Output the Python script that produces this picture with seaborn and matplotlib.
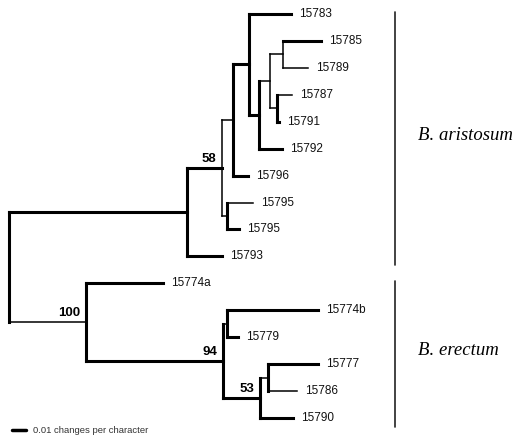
import matplotlib
matplotlib.use("Agg")
import matplotlib.pyplot as plt
import matplotlib.transforms as mtransforms
import seaborn as sns
import pandas as pd

# ---------------- data ----------------
# tree edges: child, parent, branch length (changes per character)
child = ["A", "J",
         "B", "15793",
         "C", "D",
         "15795a", "15795b",
         "E", "15796",
         "15783", "F",
         "G", "15792",
         "H", "I",
         "15785", "15789",
         "15787", "15791",
         "15774a", "K",
         "L", "M",
         "15774b", "15779",
         "N", "15790",
         "15777", "15786"]
parent = ["root", "root",
          "A", "A",
          "B", "B",
          "D", "D",
          "C", "C",
          "E", "E",
          "F", "F",
          "G", "G",
          "H", "H",
          "I", "I",
          "J", "J",
          "K", "K",
          "L", "L",
          "M", "M",
          "N", "N"]
length = [0.1271, 0.0550,
          0.0250, 0.0250,
          0.0079, 0.0036,
          0.0186, 0.0086,
          0.0114, 0.0107,
          0.0300, 0.0071,
          0.0079, 0.0164,
          0.0093, 0.0050,
          0.0271, 0.0179,
          0.0107, 0.0014,
          0.0550, 0.0979,
          0.0029, 0.0264,
          0.0650, 0.0079,
          0.0057, 0.0236,
          0.0357, 0.0207]

# tips, top to bottom, and their printed labels
tips = ["15783", "15785", "15789", "15787", "15791", "15792", "15796",
        "15795a", "15795b", "15793", "15774a", "15774b", "15779",
        "15777", "15786", "15790"]
tip_labels = ["15783", "15785", "15789", "15787", "15791", "15792", "15796",
              "15795", "15795", "15793", "15774a", "15774b", "15779",
              "15777", "15786", "15790"]

# bootstrap support
support_nodes = ["B", "J", "K", "M"]
support_values = ["58", "100", "94", "53"]

# clades
clade_names = ["B. aristosum", "B. erectum"]
clade_first_tip = ["15783", "15774a"]
clade_last_tip = ["15793", "15790"]

scale_length = 0.01
scale_text = "0.01 changes per character"

# ---------------- style ----------------
thin_horizontal = ["J", "C", "D", "15795a", "G", "H", "I", "15789",
                   "15787", "L", "N", "15786"]
thin_vertical = ["B", "G", "H"]

# ---------------- layout computation ----------------
xpos = {"root": 0.0}
for c, p, l in zip(child, parent, length):
    xpos[c] = xpos[p] + l

ypos = {t: i for i, t in enumerate(tips)}
kids = {}
for c, p in zip(child, parent):
    kids.setdefault(p, []).append(c)


def gety(n):
    if n in ypos:
        return ypos[n]
    ys = [gety(k) for k in kids[n]]
    ypos[n] = (min(ys) + max(ys)) / 2.0
    return ypos[n]


gety("root")

rows = []
# horizontal branches
for c, p in zip(child, parent):
    w = "thin" if c in thin_horizontal else "thick"
    for xx in (xpos[p], xpos[c]):
        rows.append({"x": xx, "y": ypos[c], "seg": "h_" + c, "w": w})
# vertical connectors at internal nodes
for n, ks in kids.items():
    ys = [ypos[k] for k in ks]
    w = "thin" if n in thin_vertical else "thick"
    for yy in (min(ys), max(ys)):
        rows.append({"x": xpos[n], "y": yy, "seg": "v_" + n, "w": w})
df = pd.DataFrame(rows)

# ---------------- figure ----------------
sns.set_theme(style="white")
plt.rcParams["font.family"] = ["Liberation Sans", "DejaVu Sans"]

W, H = 515, 440
fig = plt.figure(figsize=(W / 100, H / 100), dpi=100)
ax = fig.add_axes([0, 0, 1, 1])

PX_PER_UNIT = 1400.0
X0 = 9.0
YTOP = 14.0
YSTEP = (418.0 - 14.0) / (len(tips) - 1)
ax.set_xlim(-X0 / PX_PER_UNIT, (W - X0) / PX_PER_UNIT)
ax.set_ylim((H - YTOP) / YSTEP, -YTOP / YSTEP)
ax.axis("off")

sns.lineplot(data=df, x="x", y="y", units="seg", estimator=None,
             sort=False, size="w", sizes={"thick": 2.2, "thin": 1.1},
             color="black", legend=False, ax=ax,
             solid_capstyle="projecting")

# tip labels
for t, lab in zip(tips, tip_labels):
    ax.annotate(lab, (xpos[t], ypos[t]), xytext=(6, 0),
                textcoords="offset points", ha="left", va="center",
                fontsize=8.5, color="#111111")

# support values
for n, v in zip(support_nodes, support_values):
    ax.annotate(v, (xpos[n], ypos[n]), xytext=(-4, 2),
                textcoords="offset points", ha="right", va="bottom",
                fontsize=9.5, fontweight="bold", color="black")

# clade bars and names
blend = mtransforms.blended_transform_factory(ax.transAxes, ax.transData)
bar_x = 395.0 / W
name_x = 418.0 / W
for name, a, b in zip(clade_names, clade_first_tip, clade_last_tip):
    y0 = ypos[a] - 0.08
    y1 = ypos[b] + 0.32
    ax.plot([bar_x, bar_x], [y0, y1], transform=blend, color="#222222", lw=1.2)
    ax.text(name_x, (ypos[a] + ypos[b]) / 2.0, name, transform=blend,
            ha="left", va="center", fontsize=13.5, style="italic",
            family=["Liberation Serif", "DejaVu Serif"], color="black")

# scale bar
sb_x0 = 3.0 / PX_PER_UNIT
sb_y = (430.0 - YTOP) / YSTEP
ax.plot([sb_x0, sb_x0 + scale_length], [sb_y, sb_y], color="black", lw=2.5)
ax.annotate(scale_text, (sb_x0 + scale_length, sb_y), xytext=(5, 0),
            textcoords="offset points", ha="left", va="center",
            fontsize=6.8, color="#333333")

fig.savefig("out.png", dpi=100, facecolor="white")
